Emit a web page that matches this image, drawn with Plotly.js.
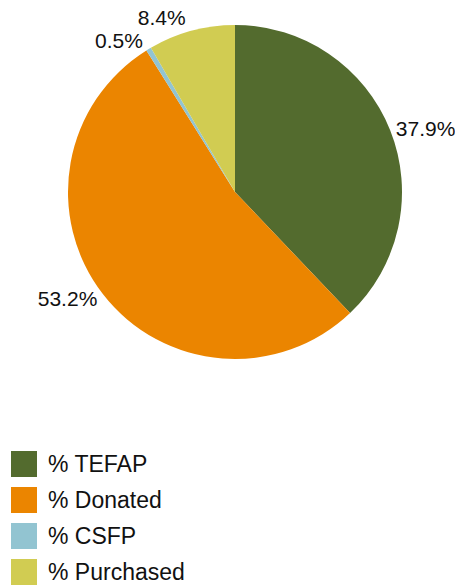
<!DOCTYPE html>
<html>
<head>
<meta charset="utf-8">
<script src="https://cdn.plot.ly/plotly-3.0.1.min.js"></script>
<style>
html, body { margin: 0; padding: 0; background: #fff; }
#chart { width: 455px; height: 585px; }
#chart path.textline { display: none; }
</style>
</head>
<body>
<div id="chart"></div>
<script>
const labels = ["% TEFAP", "% Donated", "% CSFP", "% Purchased"];
const values = [37.9, 53.2, 0.5, 8.4];
const colors = ["#536B2E", "#EB8500", "#92C4D1", "#D1CC52"];

const W = 455, H = 585;
const FONT = "'Liberation Sans', Arial, sans-serif";

const trace = {
  type: "pie",
  labels: labels,
  values: values,
  sort: false,
  direction: "clockwise",
  rotation: 0,
  marker: { colors: colors, line: { width: 0 } },
  textposition: "outside",
  texttemplate: "%{value:.1f}%",
  textfont: { family: FONT, size: 21, color: "#111" },
  hoverinfo: "label+value",
  domain: { x: [68 / W, 402 / W], y: [1 - 359 / H, 1 - 25 / H] },
  showlegend: false
};

// Manual legend built from labels/colors
const shapes = [];
const annotations = [];
const legTop = 451, legStep = 36, sq = 26, legX = 11;
labels.forEach((lab, i) => {
  const y0 = legTop + i * legStep;
  shapes.push({
    type: "rect", xref: "paper", yref: "paper",
    x0: legX / W, x1: (legX + sq) / W,
    y0: 1 - (y0 + sq) / H, y1: 1 - y0 / H,
    fillcolor: colors[i], line: { width: 0 }
  });
  annotations.push({
    xref: "paper", yref: "paper",
    x: 46 / W, y: 1 - (y0 + sq / 2) / H,
    xanchor: "left", yanchor: "middle",
    text: lab, showarrow: false,
    font: { family: FONT, size: 23, color: "#111" }
  });
});

const layout = {
  width: W, height: H,
  margin: { l: 0, r: 0, t: 0, b: 0 },
  paper_bgcolor: "#fff",
  showlegend: false,
  shapes: shapes,
  annotations: annotations,
  font: { family: FONT }
};

Plotly.newPlot("chart", [trace], layout, { displayModeBar: false, staticPlot: true });
</script>
</body>
</html>
